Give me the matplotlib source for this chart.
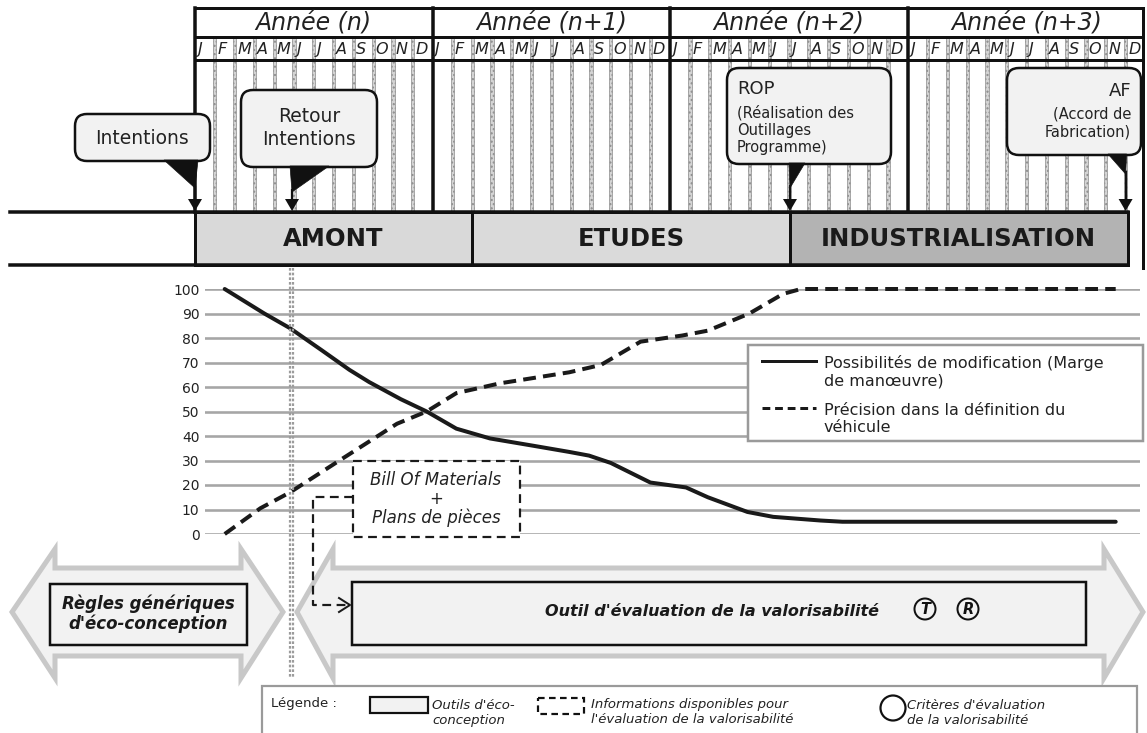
import matplotlib
matplotlib.use('Agg')
import matplotlib.pyplot as plt
from matplotlib.patches import Rectangle, FancyBboxPatch, Polygon, Circle

plt.rcParams['font.family'] = ['DejaVu Sans']

# ---------------- data ----------------
years = ['Année (n)', 'Année (n+1)', 'Année (n+2)', 'Année (n+3)']
months = ['J', 'F', 'M', 'A', 'M', 'J', 'J', 'A', 'S', 'O', 'N', 'D']
phases = ['AMONT', 'ETUDES', 'INDUSTRIALISATION']
phase_start = [0, 14, 30.05]
phase_end = [14, 30.05, 47.1]
phase_colors = ['#d9d9d9', '#dadada', '#b3b3b3']

milestone_month = [0, 4.9, 30.05, 47.0]

t_solid = [1.5, 2.3, 3.5, 4.8, 6.4, 7.8, 8.8, 10.4, 11.7, 13.2, 14.9, 17.1,
           18.9, 19.9, 21.0, 23.0, 24.8, 25.9, 27.9, 29.2, 31.6, 32.7, 46.5]
v_solid = [100, 96, 90, 84, 75, 67, 62, 55, 50, 43, 39, 36,
           33.5, 32, 29, 21, 19, 15, 9, 7, 5.5, 5, 5]
t_dash = [1.5, 3.3, 4.8, 7.2, 10.2, 11.7, 13.2, 15.4, 18.9, 20.5, 22.5, 24.6,
          25.9, 28.0, 29.7, 30.6, 46.5]
v_dash = [0, 10.5, 17, 29.5, 45, 50, 57.5, 61.5, 66, 69, 78.5, 81,
          83, 90, 98, 100, 100]
yticks = [0, 10, 20, 30, 40, 50, 60, 70, 80, 90, 100]
series_labels = ['Possibilités de modification (Marge\nde manœuvre)',
                 'Précision dans la définition du\nvéhicule']

# ---------------- layout helpers ----------------
W, H = 1147, 733
X0, MW = 195.0, 19.8          # pixel of month 0 and width of one month


def mx(m):
    return X0 + MW * m


def px(v):
    return v * 0.72


fig = plt.figure(figsize=(W / 100, H / 100), dpi=100)
fig.patch.set_facecolor('white')

ax0 = fig.add_axes([0, 0, 1, 1], zorder=0)
ax0.set_xlim(0, W)
ax0.set_ylim(H, 0)
ax0.axis('off')

# ---------------- timeline header ----------------
TOP, YROW, MROW, BASE, PBOT = 8, 37, 60, 212, 265
RIGHT = 1143
# month separators (hatched strips)
for k in range(1, 48):
    if k % 12 == 0:
        continue
    x = mx(k)
    ax0.add_patch(Rectangle((x - 1.6, YROW), 3.2, BASE - YROW, facecolor='#d4d4d4',
                            edgecolor='#8c8c8c', lw=0.5, hatch='....', zorder=1))
# frame lines
for y in (TOP, YROW, MROW):
    ax0.plot([X0, RIGHT], [y, y], color='#111111', lw=px(3), zorder=3,
             solid_capstyle='butt')
for k in range(0, 4):
    ax0.plot([mx(12 * k), mx(12 * k)], [TOP, BASE], color='#111111', lw=px(3.5),
             zorder=3)
ax0.plot([RIGHT, RIGHT], [TOP, PBOT + 3], color='#111111', lw=px(3), zorder=3)

for i, yl in enumerate(years):
    ax0.text(mx(12 * i + 6), (TOP + YROW) / 2 + 1, yl, ha='center', va='center',
             fontsize=17, style='italic', color='#222222', zorder=4)
    for j, m in enumerate(months):
        ax0.text(mx(12 * i + j) + 2.5, (YROW + MROW) / 2 + 1, m, ha='left',
                 va='center', fontsize=11.5, style='italic', color='#222222',
                 zorder=4)

# base horizontal lines
ax0.plot([10, 1128], [BASE, BASE], color='#111111', lw=px(3.5), zorder=5)
ax0.plot([10, 1128], [PBOT, PBOT], color='#111111', lw=px(3.5), zorder=5)

# phase boxes
for name, s, e, c in zip(phases, phase_start, phase_end, phase_colors):
    ax0.add_patch(Rectangle((mx(s), BASE), mx(e) - mx(s), PBOT - BASE,
                            facecolor=c, edgecolor='#111111', lw=px(3), zorder=4))
    ax0.text((mx(s) + mx(e)) / 2, (BASE + PBOT) / 2 + 1, name, ha='center',
             va='center', fontsize=17.5, fontweight='heavy', color='#1a1a1a',
             zorder=6)


# ---------------- callouts ----------------
def callout(x0, y0, x1, y1, tri, stem_x, stem_top):
    ax0.add_patch(FancyBboxPatch((x0, y0), x1 - x0, y1 - y0,
                                 boxstyle='round,pad=0,rounding_size=12',
                                 facecolor='#f2f2f2', edgecolor='#111111',
                                 lw=px(2.5), zorder=7))
    ax0.add_patch(Polygon(tri, closed=True, facecolor='#111111',
                          edgecolor='#111111', lw=0.5, zorder=8))
    ax0.plot([stem_x, stem_x], [stem_top, BASE - 12], color='#111111',
             lw=px(2.2), zorder=8)
    ax0.add_patch(Polygon([(stem_x - 7, BASE - 13), (stem_x + 7, BASE - 13),
                           (stem_x, BASE - 1)], closed=True,
                          facecolor='#111111', edgecolor='none', zorder=8))


xi = mx(milestone_month[0])
callout(75, 114, 210, 161, [(164, 160), (198, 160), (xi, 188)], xi, 187)
ax0.text(142, 138, 'Intentions', ha='center', va='center', fontsize=13.5,
         color='#222222', zorder=9)

xr = mx(milestone_month[1])
callout(241, 90, 377, 167, [(xr - 2, 166), (xr + 37, 166), (xr, 192)], xr, 190)
ax0.text(309, 128, 'Retour\nIntentions', ha='center', va='center', fontsize=13.5,
         color='#222222', linespacing=1.25, zorder=9)

xo = mx(milestone_month[2])
callout(727, 68, 891, 164, [(xo - 1, 163), (xo + 15, 163), (xo, 188)], xo, 186)
ax0.text(737, 89, 'ROP', ha='left', va='center', fontsize=13, color='#222222',
         zorder=9)
ax0.text(737, 130, '(Réalisation des\nOutillages\nProgramme)', ha='left',
         va='center', fontsize=10.5, color='#222222', linespacing=1.2, zorder=9)

xa = mx(milestone_month[3])
callout(1007, 68, 1141, 155, [(1108, 154), (xa + 1, 154), (xa, 174)], xa, 172)
ax0.text(1131, 91, 'AF', ha='right', va='center', fontsize=13, color='#222222',
         zorder=9)
ax0.text(1131, 123, '(Accord de\nFabrication)', ha='right', va='center',
         fontsize=10.5, color='#222222', linespacing=1.2, zorder=9)

# ---------------- line chart ----------------
CL, CR, CT, CB = 205, 1140, 289, 534
axc = fig.add_axes([CL / W, 1 - CB / H, (CR - CL) / W, (CB - CT) / H], zorder=1)
axc.patch.set_alpha(0)
axc.set_xlim((CL - X0) / MW, (CR - X0) / MW)
axc.set_ylim(0, 100)
for s in axc.spines.values():
    s.set_visible(False)
axc.set_xticks([])
axc.set_yticks(yticks)
axc.tick_params(axis='y', length=0, pad=4, labelsize=10, labelcolor='#222222')
axc.grid(axis='y', color='#a6a6a6', lw=px(2.6))
axc.set_axisbelow(True)
axc.plot(t_solid, v_solid, color='#1a1a1a', lw=px(4), clip_on=False,
         solid_joinstyle='round', solid_capstyle='round', zorder=3)
axc.plot(t_dash, v_dash, color='#1a1a1a', lw=px(4), clip_on=False,
         dashes=(3.2, 1.8), zorder=3)

# ---------------- overlay ----------------
ax2 = fig.add_axes([0, 0, 1, 1], zorder=2)
ax2.set_xlim(0, W)
ax2.set_ylim(H, 0)
ax2.axis('off')
ax2.patch.set_alpha(0)

# chart legend
ax2.add_patch(Rectangle((748, 345), 395, 96, facecolor='white', edgecolor='#9a9a9a',
                        lw=px(2.5), zorder=3))
ax2.plot([762, 816], [361, 361], color='#1a1a1a', lw=px(3), zorder=4)
ax2.plot([762, 816], [408, 408], color='#1a1a1a', lw=px(3), dashes=(2.6, 1.6),
         zorder=4)
ax2.text(824, 372, series_labels[0], ha='left', va='center', fontsize=11.5,
         color='#222222', linespacing=1.2, zorder=4)
ax2.text(824, 419, series_labels[1], ha='left', va='center', fontsize=11.5,
         color='#222222', linespacing=1.2, zorder=4)

# vertical double dotted divider
for xd in (289.5, 293):
    ax2.plot([xd, xd], [268, 678], color='#9c9c9c', lw=1.6,
             linestyle=(0, (1.2, 0.9)), zorder=2)


# big grey double arrows
def dbl_arrow(xl, xli, xri, xr):
    ym, ht, hb, st, sb = 612, 549, 678, 568, 656
    pts = [(xl, ym), (xli, ht), (xli, st), (xri, st), (xri, ht), (xr, ym),
           (xri, hb), (xri, sb), (xli, sb), (xli, hb)]
    ax2.add_patch(Polygon(pts, closed=True, facecolor='#f2f2f2',
                          edgecolor='#c8c8c8', lw=px(5), joinstyle='miter',
                          zorder=3))


dbl_arrow(12, 55, 241, 283)
dbl_arrow(297, 333, 1104, 1143)

ax2.add_patch(Rectangle((50, 584), 197, 61, facecolor='#f2f2f2', edgecolor='#111111',
                        lw=px(2.5), zorder=4))
ax2.text(148, 614, "Règles génériques\nd'éco-conception", ha='center', va='center',
         fontsize=12, fontweight='bold', style='italic', color='#1a1a1a',
         linespacing=1.1, zorder=5)

ax2.add_patch(Rectangle((352, 582), 734, 63, facecolor='#f2f2f2', edgecolor='#111111',
                        lw=px(2.5), zorder=4))
ax2.text(712, 612, "Outil d'évaluation de la valorisabilité", ha='center',
         va='center', fontsize=11.5, fontweight='bold', style='italic',
         color='#1a1a1a', zorder=5)
for cx, letter in ((925, 'T'), (968, 'R')):
    ax2.add_patch(Circle((cx, 609), 10.5, facecolor='none', edgecolor='#111111',
                         lw=px(2), zorder=5))
    ax2.text(cx, 610, letter, ha='center', va='center', fontsize=10.5,
             fontweight='bold', style='italic', color='#111111', zorder=6)

# Bill of materials box + connector
ax2.add_patch(Rectangle((353, 461), 167, 76, facecolor='white', edgecolor='#1a1a1a',
                        lw=px(2.2), linestyle=(0, (4, 2.5)), zorder=4))
ax2.text(436, 480, 'Bill Of Materials', ha='center', va='center', fontsize=12,
         style='italic', color='#222222', zorder=5)
ax2.text(436, 499, '+', ha='center', va='center', fontsize=12, color='#222222',
         zorder=5)
ax2.text(436, 518, 'Plans de pièces', ha='center', va='center', fontsize=12,
         style='italic', color='#222222', zorder=5)
ax2.plot([353, 313, 313, 348], [497, 497, 605, 605], color='#1a1a1a', lw=px(2.2),
         linestyle=(0, (4, 2.5)), zorder=5)
ax2.plot([339, 350, 339], [598, 605, 612], color='#1a1a1a', lw=px(2), zorder=5)

# bottom legend
ax2.add_patch(Rectangle((262, 686), 875, 60, facecolor='white', edgecolor='#9a9a9a',
                        lw=px(2.2), zorder=3))
ax2.text(271, 704, 'Légende :', ha='left', va='center', fontsize=9.5,
         color='#222222', zorder=4)
ax2.add_patch(Rectangle((370, 697), 58, 16, facecolor='#f2f2f2', edgecolor='#111111',
                        lw=px(2.2), zorder=4))
ax2.text(432, 713, "Outils d'éco-\nconception", ha='left', va='center',
         fontsize=9.5, style='italic', color='#222222', linespacing=1.2, zorder=4)
ax2.add_patch(Rectangle((538, 698), 46, 16, facecolor='white', edgecolor='#111111',
                        lw=px(2.2), linestyle=(0, (3, 2)), zorder=4))
ax2.text(591, 712, "Informations disponibles pour\nl'évaluation de la valorisabilité",
         ha='left', va='center', fontsize=9.5, style='italic', color='#222222',
         linespacing=1.2, zorder=4)
ax2.add_patch(Circle((893, 708), 12.5, facecolor='white', edgecolor='#111111',
                     lw=px(2.2), zorder=4))
ax2.text(907, 713, "Critères d'évaluation\nde la valorisabilité", ha='left',
         va='center', fontsize=9.5, style='italic', color='#222222',
         linespacing=1.2, zorder=4)

fig.savefig('out.png', dpi=100)
